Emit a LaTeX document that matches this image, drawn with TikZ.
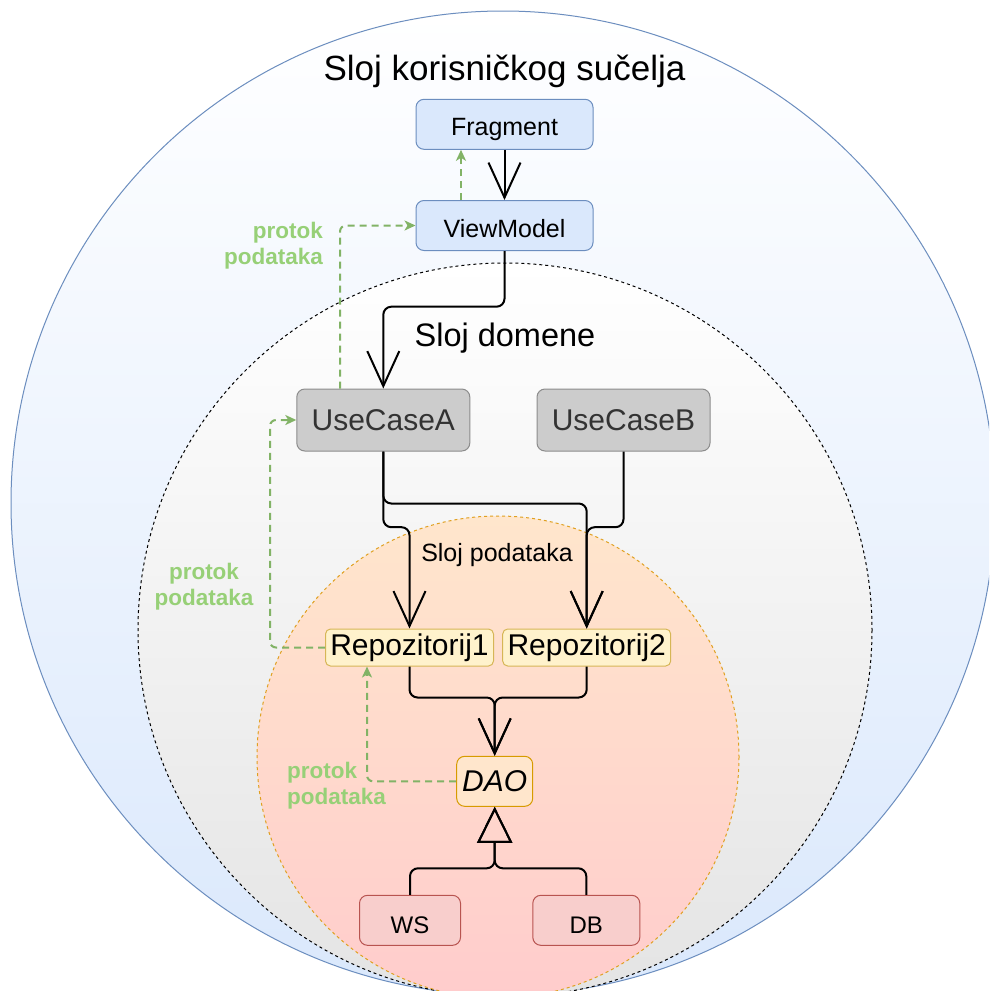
\documentclass[tikz,border=0pt]{standalone}
\usepackage{fontspec}
\setmainfont{Liberation Sans}
\usetikzlibrary{arrows.meta}
\definecolor{uiFill}{HTML}{DAE8FC}
\definecolor{uiStroke}{HTML}{6C8EBF}
\definecolor{domFill}{HTML}{E4E4E4}
\definecolor{datTop}{HTML}{FFE6CC}
\definecolor{datBot}{HTML}{FFCCCC}
\definecolor{datStroke}{HTML}{E0A020}
\definecolor{ucFill}{HTML}{CCCCCC}
\definecolor{ucStroke}{HTML}{8C8C8C}
\definecolor{ucText}{HTML}{333333}
\definecolor{repoFill}{HTML}{FFF2CC}
\definecolor{repoStroke}{HTML}{D6B656}
\definecolor{daoFill}{HTML}{FFE6CC}
\definecolor{daoStroke}{HTML}{D79B00}
\definecolor{wsFill}{HTML}{F8CECC}
\definecolor{wsStroke}{HTML}{B85450}
\definecolor{flowLine}{HTML}{82B366}
\definecolor{flowText}{HTML}{97D077}
\tikzset{
  box/.style={rectangle, rounded corners=8pt, draw, line width=1pt, inner sep=0pt, align=center},
  uibox/.style={box, fill=uiFill, draw=uiStroke, minimum width=177pt, minimum height=50pt, text height=23pt, text depth=0pt, font=\fontsize{25}{30}\selectfont},
  ucbox/.style={box, fill=ucFill, draw=ucStroke, text=ucText, minimum width=173pt, minimum height=62pt, font=\fontsize{30}{36}\selectfont},
  repobox/.style={box, rounded corners=5pt, fill=repoFill, draw=repoStroke, minimum width=168pt, minimum height=37pt, font=\fontsize{30}{36}\selectfont},
  daobox/.style={box, fill=daoFill, draw=daoStroke, minimum width=76pt, minimum height=50pt, font=\fontsize{30}{36}\selectfont\itshape},
  srcbox/.style={box, fill=wsFill, draw=wsStroke, minimum height=50pt, text height=26pt, text depth=0pt, font=\fontsize{24}{29}\selectfont},
  dep/.style={line width=2pt, rounded corners=8pt, -{Straight Barb[length=35pt,width=32pt]}},
  inh/.style={line width=2pt, rounded corners=8pt, -{Triangle[open,length=36pt,width=35pt]}},
  flow/.style={flowLine, line width=2pt, dash pattern=on 7pt off 5pt, rounded corners=6pt, -{Stealth[length=11pt,width=10pt,inset=3pt]}},
  flowlabel/.style={text=flowText, font=\fontsize{22.5}{26}\selectfont\bfseries, inner sep=0pt},
  layerlabel/.style={inner sep=0pt}
}
\begin{document}
\begin{tikzpicture}[x=1pt, y=-1pt]
\useasboundingbox (0,0) rectangle (989,991);
\fill[white] (0,0) rectangle (989,991);
\clip (0,0) rectangle (989,991);
% layers
\shade[top color=white, bottom color=uiFill] (503,503) circle (492);
\draw[uiStroke, line width=1pt] (503,503) circle (492);
\shade[top color=white, bottom color=domFill] (505,630) circle (367);
\draw[black, line width=1pt, dash pattern=on 3pt off 3pt] (505,630) circle (367);
\shade[top color=datTop, bottom color=datBot] (498,757) circle (241);
\draw[datStroke, line width=1pt, dash pattern=on 3pt off 3pt] (498,757) circle (241);
% layer titles
\node[layerlabel, font=\fontsize{35}{40}\selectfont] (tUI) at (504.5,71) {Sloj korisničkog sučelja};
\node[layerlabel, font=\fontsize{32.5}{38}\selectfont] (tDom) at (505,338) {Sloj domene};
\node[layerlabel, font=\fontsize{25}{30}\selectfont] (tDat) at (497,555) {Sloj podataka};
% nodes
\node[uibox] (frag) at (504.5,124.3) {Fragment};
\node[uibox] (vm) at (504.5,225.5) {ViewModel};
\node[ucbox] (ucA) at (383.3,420) {UseCaseA};
\node[ucbox] (ucB) at (623.5,420) {UseCaseB};
\node[repobox] (r1) at (409.5,647.5) {Repozitorij1};
\node[repobox] (r2) at (586.7,647.5) {Repozitorij2};
\node[daobox] (dao) at (494.7,781.3) {DAO};
\node[srcbox, minimum width=101pt] (ws) at (410,920.3) {WS};
\node[srcbox, minimum width=107pt] (db) at (586.3,920.3) {DB};
% flow labels
\node[flowlabel, align=right, anchor=east] (fl1) at (323,246) {protok\\podataka};
\node[flowlabel, align=center] (fl2) at (204,587) {protok\\podataka};
\node[flowlabel, align=left, anchor=west] (fl3) at (287,786) {protok\\podataka};
% dependencies
\draw[dep] (frag.south) -- (vm.north);
\draw[dep] (vm.south) -- ++(0,55.7) -| (ucA.north);
\draw[dep] (ucA.south) -- ++(0,52) -| (r2.north);
\draw[dep] (ucA.south) -- ++(0,75.7) -| (r1.north);
\draw[dep] (ucB.south) -- ++(0,75.7) -| (r2.north);
\draw[dep] (r1.south) -- ++(0,31) -| (dao.north);
\draw[dep] (r2.south) -- ++(0,31) -| (dao.north);
\draw[inh] (ws.north) -- ++(0,-26.5) -| (dao.south);
\draw[inh] (db.north) -- ++(0,-26.5) -| (dao.south);
% data flow
\draw[flow] ([xshift=-43.5pt]vm.north) -- ([xshift=-43.5pt]frag.south);
\draw[flow] ([xshift=-43.3pt]ucA.north) |- (vm.west);
\draw[flow] (r1.west) -- ++(-55,0) |- (ucA.west);
\draw[flow] (dao.west) -| ([xshift=-42.5pt]r1.south);
\end{tikzpicture}
\end{document}
